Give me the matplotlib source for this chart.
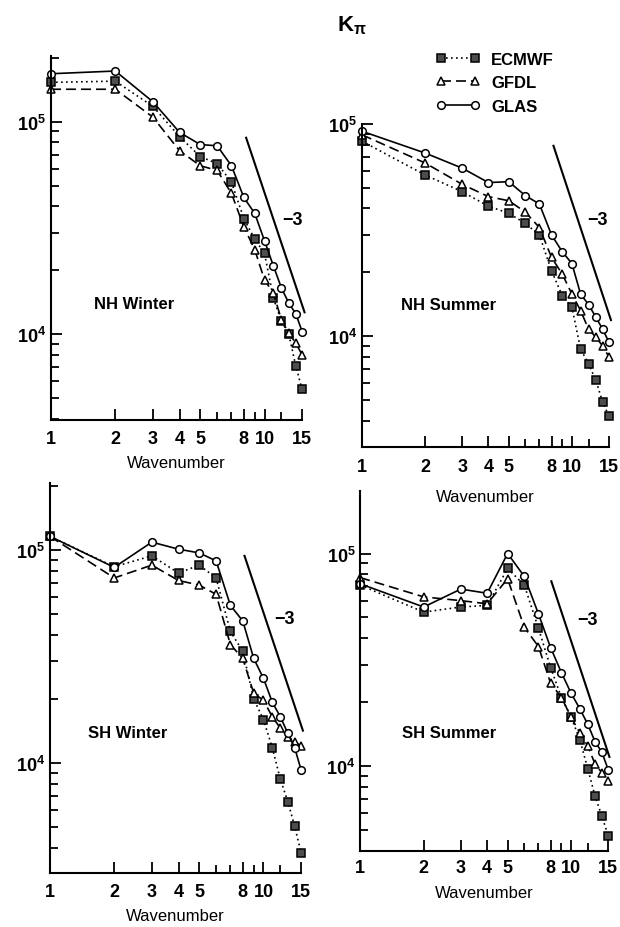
import matplotlib
matplotlib.use("Agg")
import matplotlib.pyplot as plt
from matplotlib.ticker import NullFormatter, LogLocator

plt.rcParams['font.family'] = ['Liberation Sans', 'DejaVu Sans']
plt.rcParams['font.weight'] = 'bold'
plt.rcParams['mathtext.fontset'] = 'custom'
plt.rcParams['mathtext.rm'] = 'Liberation Sans:bold'
plt.rcParams['mathtext.it'] = 'Liberation Sans:bold'
plt.rcParams['mathtext.bf'] = 'Liberation Sans:bold'

# wavenumbers 1..15
wavenumber = [1, 2, 3, 4, 5, 6, 7, 8, 9, 10, 11, 12, 13, 14, 15]

# NH Winter
nhw_ecmwf = [1.53e5, 1.55e5, 1.18e5, 8.5e4, 6.85e4, 6.35e4, 5.2e4, 3.5e4, 2.8e4, 2.4e4,
             1.48e4, 1.15e4, 1.0e4, 7.1e3, 5.5e3]
nhw_gfdl = [1.42e5, 1.42e5, 1.05e5, 7.3e4, 6.2e4, 5.9e4, 4.6e4, 3.2e4, 2.5e4, 1.8e4,
            1.56e4, 1.17e4, 1.01e4, 9.1e3, 8.0e3]
nhw_glas = [1.68e5, 1.73e5, 1.24e5, 8.9e4, 7.8e4, 7.7e4, 6.2e4, 4.4e4, 3.7e4, 2.75e4,
            2.1e4, 1.65e4, 1.4e4, 1.25e4, 1.03e4]

# NH Summer
nhs_ecmwf = [8.3e4, 5.75e4, 4.8e4, 4.1e4, 3.8e4, 3.4e4, 3.0e4, 2.03e4, 1.55e4, 1.37e4,
             8.7e3, 7.4e3, 6.2e3, 4.9e3, 4.2e3]
nhs_gfdl = [8.9e4, 6.55e4, 5.2e4, 4.55e4, 4.35e4, 3.85e4, 3.25e4, 2.35e4, 1.96e4, 1.58e4,
            1.32e4, 1.08e4, 9.9e3, 9.0e3, 8.0e3]
nhs_glas = [9.25e4, 7.3e4, 6.2e4, 5.3e4, 5.35e4, 4.6e4, 4.2e4, 3.0e4, 2.5e4, 2.2e4,
            1.58e4, 1.41e4, 1.23e4, 1.08e4, 9.4e3]

# SH Winter
shw_ecmwf = [1.16e5, 8.35e4, 9.4e4, 7.8e4, 8.5e4, 7.4e4, 4.15e4, 3.35e4, 2.0e4, 1.6e4,
             1.18e4, 8.4e3, 6.6e3, 5.05e3, 3.8e3]
shw_gfdl = [1.16e5, 7.4e4, 8.5e4, 7.2e4, 6.85e4, 6.2e4, 3.6e4, 3.1e4, 2.13e4, 1.97e4,
            1.65e4, 1.46e4, 1.33e4, 1.26e4, 1.2e4]
shw_glas = [1.16e5, 8.3e4, 1.09e5, 1.01e5, 9.7e4, 8.9e4, 5.5e4, 4.65e4, 3.1e4, 2.5e4,
            1.93e4, 1.65e4, 1.38e4, 1.18e4, 9.3e3]

# SH Summer
shs_ecmwf = [7.1e4, 5.3e4, 5.6e4, 5.7e4, 8.5e4, 7.1e4, 4.45e4, 2.9e4, 2.1e4, 1.7e4,
             1.33e4, 9.7e3, 7.2e3, 5.8e3, 4.7e3]
shs_gfdl = [7.7e4, 6.25e4, 6.0e4, 5.8e4, 7.6e4, 4.5e4, 3.65e4, 2.45e4, 2.1e4, 1.7e4,
            1.43e4, 1.24e4, 1.02e4, 9.3e3, 8.5e3]
shs_glas = [7.2e4, 5.6e4, 6.8e4, 6.5e4, 1.0e5, 7.8e4, 5.2e4, 3.6e4, 2.75e4, 2.2e4,
            1.86e4, 1.57e4, 1.3e4, 1.16e4, 9.6e3]

titles = ["NH Winter", "NH Summer", "SH Winter", "SH Summer"]
models = ["ECMWF", "GFDL", "GLAS"]

# -3 reference line: start wavenumber, start value, end wavenumber
slope_start = [(8.2, 8.4e4, 15.4), (8.17, 7.9e4, 15.35), (8.15, 9.4e4, 15.3), (8.06, 7.4e4, 15.2)]
slope_label = [(13.5, 3.45e4), (13.26, 3.56e4), (12.6, 4.8e4), (12.0, 4.87e4)]

panels = [
    (nhw_ecmwf, nhw_gfdl, nhw_glas),
    (nhs_ecmwf, nhs_gfdl, nhs_glas),
    (shw_ecmwf, shw_gfdl, shw_glas),
    (shs_ecmwf, shs_gfdl, shs_glas),
]

# axes rectangles (fig fraction) and y limits
rects = [
    [0.0823, 0.5463, 0.405, 0.392],
    [0.584, 0.5172, 0.398, 0.348],
    [0.0806, 0.0582, 0.405, 0.420],
    [0.581, 0.0819, 0.400, 0.388],
]
ylims = [(3.95e3, 2.03e5), (3.0e3, 1.0e5), (3.05e3, 2.06e5), (3.98e3, 1.97e5)]
text_pos = [(0.33, 0.32), (0.35, 0.44), (0.31, 0.36), (0.36, 0.33)]
tick_pad = [7, 8, 7, 6]
label_pad = [6, 10, 6, 6]

styles = [
    dict(linestyle=(0, (1, 2)), marker='s', markerfacecolor='0.3'),
    dict(linestyle=(0, (6, 3)), marker='^', markerfacecolor='white'),
    dict(linestyle='-', marker='o', markerfacecolor='white'),
]

fig = plt.figure(figsize=(6.2, 9.28), dpi=100)

handles = []
for i, series in enumerate(panels):
    ax = fig.add_axes(rects[i])
    ax.patch.set_visible(False)
    for j, vals in enumerate(series):
        ln, = ax.plot(wavenumber, vals, color='black', linewidth=1.2, markersize=5.5,
                      markeredgewidth=1.1, markeredgecolor='black', clip_on=False,
                      label=models[j], **styles[j])
        if i == 0:
            handles.append(ln)
    x0, y0, x1 = slope_start[i]
    ax.plot([x0, x1], [y0, y0 * (x0 / x1) ** 3], color='black', linewidth=1.5, clip_on=False)
    ax.text(slope_label[i][0], slope_label[i][1], "\u22123", fontsize=13, ha='center', va='center')
    ax.text(text_pos[i][0], text_pos[i][1], titles[i], transform=ax.transAxes,
            fontsize=12, ha='center', va='center')

    ax.set_xscale('log')
    ax.set_yscale('log')
    ax.set_xlim(1, 15)
    ax.set_ylim(*ylims[i])
    ax.set_xticks([1, 2, 3, 4, 5, 8, 10, 15], ['1', '2', '3', '4', '5', '8', '10', '15'])
    ax.set_xticks([6, 7, 9, 12], minor=True)
    ax.xaxis.set_minor_formatter(NullFormatter())
    ax.yaxis.set_major_locator(LogLocator(base=10))
    ax.yaxis.set_minor_locator(LogLocator(base=10, subs=range(2, 10)))
    ax.yaxis.set_minor_formatter(NullFormatter())
    ax.tick_params(which='both', direction='in', width=1.3, labelsize=13, color='black')
    ax.tick_params(which='major', length=8)
    ax.tick_params(which='minor', length=6)
    ax.tick_params(axis='x', which='both', pad=tick_pad[i])
    ax.spines['top'].set_visible(False)
    ax.spines['right'].set_visible(False)
    ax.spines['left'].set_linewidth(1.5)
    ax.spines['bottom'].set_linewidth(1.5)
    ax.set_xlabel("Wavenumber", fontsize=12, labelpad=label_pad[i])

fig.text(0.568, 0.972, r"K$_\pi$", fontsize=16, ha='center', va='center')
fig.legend(handles=handles, loc='upper left', bbox_to_anchor=(0.689, 0.952), frameon=False,
           fontsize=12, handlelength=2.65, handletextpad=0.7, labelspacing=0.5,
           numpoints=2, borderpad=0)

fig.savefig("out.png", dpi=100)
